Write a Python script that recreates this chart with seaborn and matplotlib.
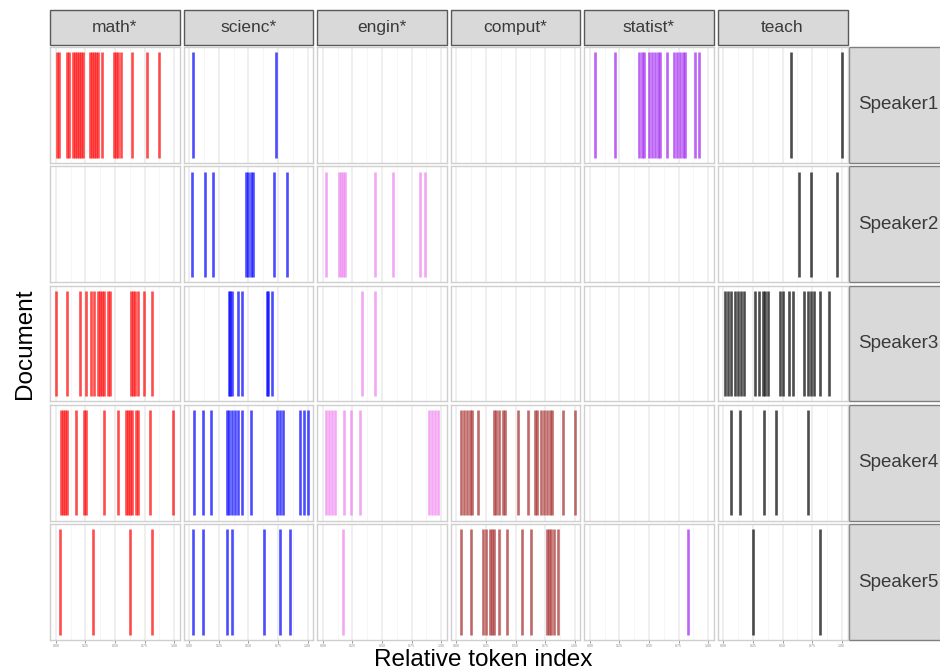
import pandas as pd
import matplotlib
matplotlib.use("Agg")
import matplotlib.pyplot as plt
from matplotlib.patches import Rectangle
import seaborn as sns

# estilo
sns.set_theme(style="white")
plt.rcParams['font.family'] = ['Liberation Sans', 'DejaVu Sans']

# dados (posição relativa do token em cada documento)
terms = ["math*", "scienc*", "engin*", "comput*", "statist*", "teach"]
speakers = ["Speaker1", "Speaker2", "Speaker3", "Speaker4", "Speaker5"]
term_colors = ["red", "blue", "violet", "brown", "#A020F0", "black"]

math_pos = [
    [0.008, 0.025, 0.093, 0.110, 0.144, 0.161, 0.178, 0.195, 0.212, 0.229, 0.288, 0.305,
     0.322, 0.339, 0.356, 0.390, 0.492, 0.508, 0.525, 0.551, 0.644, 0.771, 0.873],
    [],
    [0.000, 0.093, 0.203, 0.254, 0.297, 0.322, 0.356, 0.373, 0.390, 0.407, 0.441, 0.458,
     0.636, 0.653, 0.669, 0.695, 0.746, 0.814],
    [0.042, 0.059, 0.076, 0.093, 0.169, 0.237, 0.254, 0.407, 0.525, 0.593, 0.610, 0.627,
     0.644, 0.678, 0.695, 0.797, 0.992],
    [0.034, 0.314, 0.627, 0.814],
]
scienc_pos = [
    [0.034, 0.729],
    [0.025, 0.136, 0.203, 0.483, 0.500, 0.517, 0.534, 0.720, 0.822],
    [0.331, 0.347, 0.364, 0.415, 0.441, 0.653, 0.669, 0.703],
    [0.042, 0.119, 0.186, 0.314, 0.339, 0.364, 0.390, 0.415, 0.441, 0.525, 0.737, 0.763,
     0.788, 0.940, 0.970, 1.000],
    [0.034, 0.119, 0.322, 0.364, 0.627, 0.763, 0.847],
]
engin_pos = [
    [],
    [0.025, 0.136, 0.153, 0.169, 0.186, 0.441, 0.593, 0.822, 0.860],
    [0.331, 0.441],
    [0.025, 0.051, 0.076, 0.102, 0.178, 0.237, 0.314, 0.898, 0.924, 0.949, 0.975],
    [0.169],
]
comput_pos = [
    [],
    [],
    [],
    [0.042, 0.068, 0.093, 0.119, 0.136, 0.186, 0.314, 0.339, 0.364, 0.390, 0.415, 0.525,
     0.602, 0.661, 0.686, 0.712, 0.737, 0.763, 0.788, 0.805, 0.898, 1.000],
    [0.042, 0.127, 0.229, 0.254, 0.280, 0.305, 0.322, 0.364, 0.424, 0.559, 0.627, 0.763,
     0.780, 0.797, 0.822, 0.856],
]
statist_pos = [
    [0.042, 0.212, 0.415, 0.441, 0.458, 0.500, 0.525, 0.551, 0.576, 0.593, 0.653, 0.712,
     0.737, 0.763, 0.788, 0.805, 0.890, 0.924],
    [],
    [],
    [],
    [0.828],
]
teach_pos = [
    [0.576, 1.000],
    [0.636, 0.737, 0.958],
    [0.017, 0.042, 0.068, 0.102, 0.127, 0.153, 0.178, 0.271, 0.297, 0.331, 0.356, 0.381,
     0.483, 0.508, 0.559, 0.585, 0.686, 0.712, 0.737, 0.763, 0.814, 0.890],
    [0.068, 0.144, 0.347, 0.449, 0.712],
    [0.250, 0.814],
]

all_pos = [math_pos, scienc_pos, engin_pos, comput_pos, statist_pos, teach_pos]
rows = []
for term, per_doc in zip(terms, all_pos):
    for doc, vals in zip(speakers, per_doc):
        for v in vals:
            rows.append((term, doc, v))
df = pd.DataFrame(rows, columns=["term", "doc", "pos"])


def xray(x, color=None, label=None, **kws):
    ax = plt.gca()
    ax.vlines(x, 0.045, 0.955, colors=color, alpha=0.7, linewidth=1.9)


g = sns.FacetGrid(df, row="doc", col="term", hue="term",
                  row_order=speakers, col_order=terms, hue_order=terms,
                  palette=term_colors, sharex=True, sharey=True, despine=False,
                  height=1.2, aspect=1.1)
g.map(xray, "pos")
g.set_titles("")
g.set_axis_labels("", "")

fig = g.figure
fig.set_size_inches(9.4, 6.71)
fig.subplots_adjust(left=50 / 940, right=847.5 / 940, top=1 - 47 / 671,
                    bottom=1 - 640 / 671, wspace=0.027, hspace=0.030)

pw, ph = 130.0, 115.8
for i, doc in enumerate(speakers):
    for j, term in enumerate(terms):
        ax = g.axes[i, j]
        ax.set_xlim(-0.05, 1.05)
        ax.set_ylim(0, 1)
        ax.set_yticks([])
        ax.set_xticks([0, 0.25, 0.5, 0.75, 1])
        ax.set_xticks([0.125, 0.375, 0.625, 0.875], minor=True)
        ax.set_xticklabels(["0.00", "0.25", "0.50", "0.75", "1.00"])
        ax.grid(which="major", axis="x", color="#EBEBEB", linewidth=1.1)
        ax.grid(which="minor", axis="x", color="#F5F5F5", linewidth=0.6)
        ax.set_axisbelow(True)
        for s in ax.spines.values():
            s.set_color("#CFCFCF")
            s.set_linewidth(1.0)
        ax.tick_params(axis="x", which="minor", length=0)
        if i == len(speakers) - 1:
            ax.tick_params(axis="x", which="major", bottom=True, length=2,
                           width=0.6, colors="#8A8A8A", labelsize=2.5, pad=1)
        # faixa superior
        if i == 0:
            ax.add_patch(Rectangle((0, 1 + 2 / ph), 1, 35 / ph, transform=ax.transAxes,
                                   clip_on=False, facecolor="#D9D9D9",
                                   edgecolor="#595959", linewidth=1))
            ax.text(0.5, 1 + 19.5 / ph, term, transform=ax.transAxes,
                    ha="center", va="center", fontsize=12.5, color="#3A3A3A")
        # faixa da direita
        if j == len(terms) - 1:
            ax.add_patch(Rectangle((1 + 1.5 / pw, 0), 0.9, 1, transform=ax.transAxes,
                                   clip_on=False, facecolor="#D9D9D9",
                                   edgecolor="#7F7F7F", linewidth=1))
            ax.text(1 + 10.5 / pw, 0.5, doc, transform=ax.transAxes,
                    ha="left", va="center", fontsize=13.5, color="#3A3A3A")

fig.text(483 / 940, 1 - 660 / 671, "Relative token index", ha="center", va="center",
         fontsize=17.5, color="black")
fig.text(25 / 940, 1 - 344 / 671, "Document", ha="center", va="center",
         rotation=90, fontsize=17.5, color="black")

fig.savefig("out.png", dpi=100)
